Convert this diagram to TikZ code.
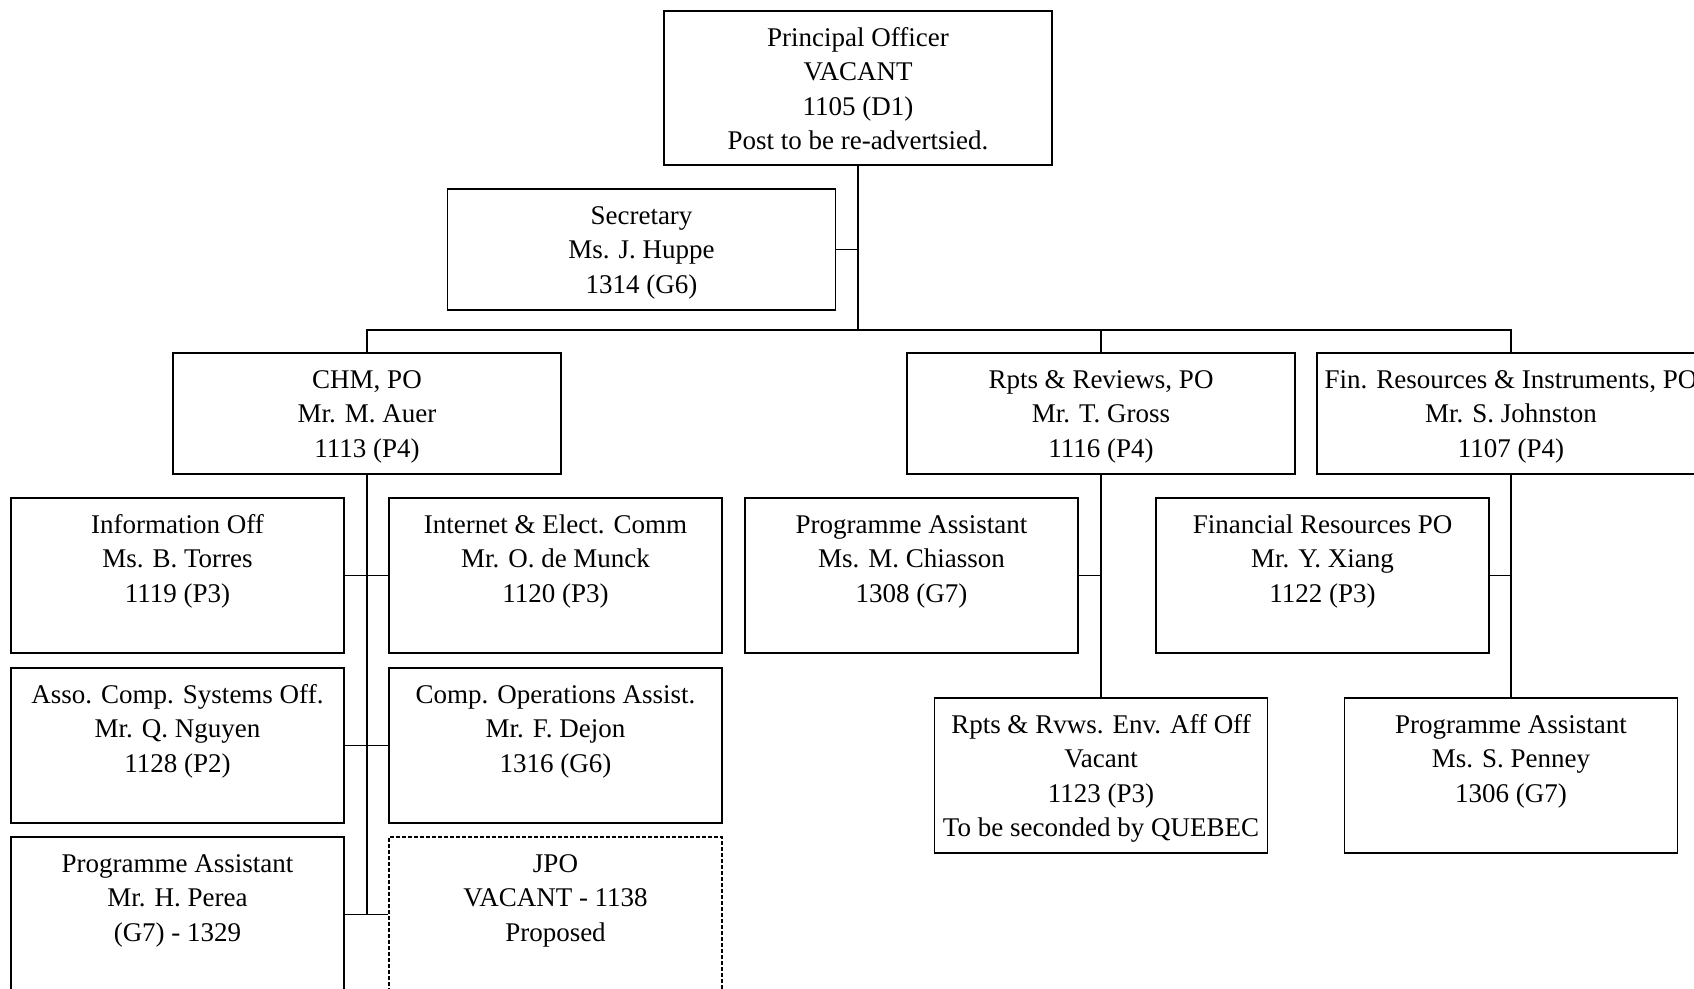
\documentclass[tikz,border=0pt]{standalone}
\usepackage{fontspec}
\setmainfont{Liberation Serif}
\usepackage{tikz}

\begin{document}
\begin{tikzpicture}[x=1pt, y=-1pt, line width=1.5pt,
						post/.style 2 args={draw, line width=1.8pt, inner sep=0pt,
							minimum width=#1, minimum height=#2,
							font=\fontsize{27}{34.5}\selectfont,
							execute at begin node={\begin{minipage}[t][#2pt][t]{#1pt}\centering\rule{0pt}{35pt}},
							execute at end node={\end{minipage}}},
						head/.style={post={388}{#1}},
						staff/.style={post={333}{155}},
						proposed/.style={staff, dash pattern=on 4pt off 2pt}]
					\useasboundingbox (0,0) rectangle (1694,988);
					\clip (0,0) rectangle (1694,988);

					% top of the office
					\node [head=154] (PO) at (858,88) {Principal Officer\\VACANT\\1105 (D1)\\Post to be re-advertsied.};
					\node [head=121] (Sec) at (641.5,249.5) {Secretary\\Ms. J. Huppe\\1314 (G6)};
					\coordinate (Bus) at (858,330);

					% units
					\node [head=121] (CHM) at (367,413.5) {CHM, PO\\Mr. M. Auer\\1113 (P4)};
					\node [head=121] (Rpts) at (1101,413.5) {Rpts \& Reviews, PO\\Mr. T. Gross\\1116 (P4)};
					\node [head=121] (Fin) at (1511,413.5) {Fin. Resources \& Instruments, PO\\Mr. S. Johnston\\1107 (P4)};

					% CHM staff
					\node [staff] (Info) at (177.5,575.5) {Information Off\\Ms. B. Torres\\1119 (P3)};
					\node [staff] (Inet) at (555.5,575.5) {Internet \& Elect. Comm\\Mr. O. de Munck\\1120 (P3)};
					\node [staff] (Asso) at (177.5,745.5) {Asso. Comp. Systems Off.\\Mr. Q. Nguyen\\1128 (P2)};
					\node [staff] (COps) at (555.5,745.5) {Comp. Operations Assist.\\Mr. F. Dejon\\1316 (G6)};
					\node [staff] (PA1) at (177.5,914.5) {Programme Assistant\\Mr. H. Perea\\(G7) - 1329};
					\node [proposed] (JPO) at (555.5,914.5) {JPO\\VACANT - 1138\\Proposed};

					% Rpts staff
					\node [staff] (PA2) at (911.5,575.5) {Programme Assistant\\Ms. M. Chiasson\\1308 (G7)};
					\node [staff] (Env) at (1101,775.5) {Rpts \& Rvws. Env. Aff Off\\Vacant\\1123 (P3)\\To be seconded by QUEBEC};

					% Fin staff
					\node [staff] (FRPO) at (1322.5,575.5) {Financial Resources PO\\Mr. Y. Xiang\\1122 (P3)};
					\node [staff] (PA3) at (1511,775.5) {Programme Assistant\\Ms. S. Penney\\1306 (G7)};

					\draw [line width=2pt] (PO.south) -- (PO.south |- Sec.east);
					\draw (PO.south |- Sec.east) -- (Bus);
					\draw (Sec.east) -- (Sec.east -| PO.south);
					\draw (CHM.north) |- (Bus) -| (Fin.north);
					\draw (Rpts.north) -- (Rpts.north |- Bus);

					\draw (CHM.south) -- (CHM.south |- PA1.east);
					\draw (Info.east) -- (Inet.west);
					\draw (Asso.east) -- (COps.west);
					\draw (PA1.east) -- (JPO.west);

					\draw (Rpts.south) -- (Env.north);
					\draw (PA2.east) -- (PA2.east -| Rpts.south);
					\draw (Fin.south) -- (PA3.north);
					\draw (FRPO.east) -- (FRPO.east -| Fin.south);
				\end{tikzpicture}
\end{document}
